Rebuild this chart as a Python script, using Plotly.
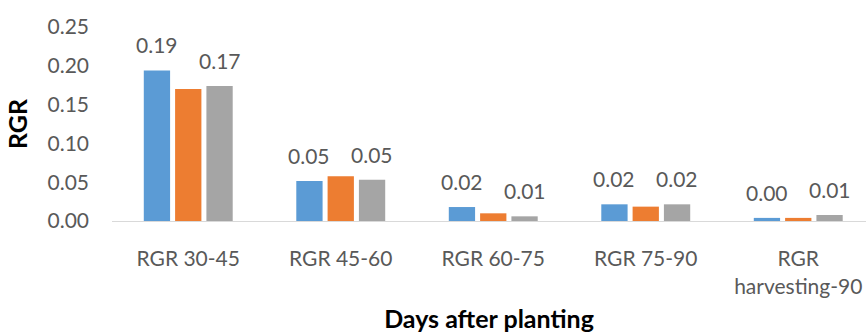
import plotly.graph_objects as go

# RGR per growth interval (days after planting), three treatments
categories = ["RGR 30-45", "RGR 45-60", "RGR 60-75", "RGR 75-90", "RGR<br>harvesting-90"]
series_names = ["Series 1", "Series 2", "Series 3"]
series_a = [0.194, 0.0515, 0.018, 0.0215, 0.004]
series_b = [0.170, 0.0576, 0.0099, 0.0185, 0.004]
series_c = [0.174, 0.0532, 0.006, 0.0215, 0.0077]
labelled = [True, False, True]  # which series carry value labels

colors = ["#5B9BD5", "#ED7D31", "#A5A5A5"]
FONT = "Lato"
TEXT_COLOR = "#595959"
BARGAP = 0.384

fig = go.Figure()
x_idx = list(range(len(categories)))
all_series = [series_a, series_b, series_c]
for name, vals, col in zip(series_names, all_series, colors):
    fig.add_trace(go.Bar(x=x_idx, y=vals, name=name, marker=dict(color=col, line=dict(width=0))))

# value labels above the labelled bars, placed at each bar's slot in its group
n = len(all_series)
slot = (1 - BARGAP) / n
for s, (vals, show) in enumerate(zip(all_series, labelled)):
    if not show:
        continue
    for i, v in enumerate(vals):
        fig.add_annotation(
            x=i + (s - (n - 1) / 2) * slot, y=v, text=f"{v:.2f}",
            xref="x", yref="y", yanchor="bottom", showarrow=False, yshift=11,
            font=dict(family=FONT, size=21, color=TEXT_COLOR),
        )

fig.update_layout(
    width=866, height=333,
    margin=dict(l=112, r=0, t=27, b=112),
    paper_bgcolor="white", plot_bgcolor="white",
    barmode="group", bargap=BARGAP, bargroupgap=0.16,
    showlegend=False,
    font=dict(family=FONT, size=21, color=TEXT_COLOR),
)
fig.update_xaxes(
    range=[-0.5, -0.5 + 754 / 152.5],
    tickvals=x_idx, ticktext=categories,
    showline=True, linecolor="#D9D9D9", linewidth=1,
    showgrid=False, zeroline=False, ticks="",
    ticklabelstandoff=19,
    tickfont=dict(family=FONT, size=21, color=TEXT_COLOR),
    title=dict(text="<b>Days after planting</b>", standoff=15,
               font=dict(family=FONT, size=25, color="#000000")),
)
fig.update_yaxes(
    range=[0, 0.25], tickvals=[0, 0.05, 0.10, 0.15, 0.20, 0.25], tickformat=".2f",
    showgrid=False, zeroline=False, showline=False, ticks="",
    ticklabelstandoff=22,
    tickfont=dict(family=FONT, size=21, color=TEXT_COLOR),
    title=dict(text="<b>RGR</b>", standoff=12,
               font=dict(family=FONT, size=25, color="#000000")),
)

fig.write_html("out.html")
